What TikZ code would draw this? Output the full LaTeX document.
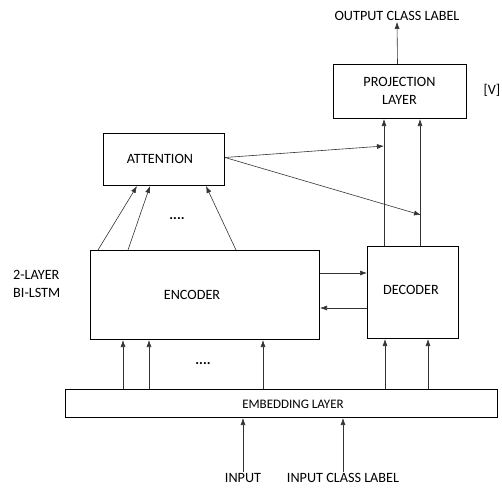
\documentclass[tikz,border=0pt]{standalone}
\usepackage{fontspec}
\setmainfont{Carlito}
\usetikzlibrary{arrows.meta,calc}
\begin{document}
\begin{tikzpicture}[x=1pt,y=-1pt,
  box/.style={draw, line width=1pt, anchor=north west, inner sep=0pt, align=center},
  lbl/.style={inner sep=1pt, font=\fontsize{14.2}{16}\selectfont},
  arr/.style={-{Latex[length=7pt,width=5pt]}, line width=0.6pt, draw=black!80},
  ln/.style={line width=0.6pt, draw=black!80}]
\useasboundingbox (0,0) rectangle (502,487);
\node[box, minimum width=133pt, minimum height=54pt] (proj) at (333,64) {};
\node[lbl, align=center] (projt) at (399.5,91) {PROJECTION\\[2pt]LAYER};
\node[box, minimum width=121pt, minimum height=52pt] (att) at (103,133) {};
\node[lbl] (attt) at (160,159) {ATTENTION};
\node[box, minimum width=229pt, minimum height=89pt] (enc) at (90,250) {};
\node[lbl] (enct) at (192,295) {ENCODER};
\node[box, minimum width=91pt, minimum height=92pt] (dec) at (367,246) {};
\node[lbl] (dect) at (411,290) {DECODER};
\node[box, minimum width=432pt, minimum height=28pt] (emb) at (65,389) {};
\node[lbl, font=\fontsize{13}{15}\selectfont] (embt) at (293,404) {EMBEDDING LAYER};
\node[lbl] (out) at (397,16) {OUTPUT CLASS LABEL};
\node[lbl, anchor=east] (v) at (501.5,90) {[V]};
\node[lbl, align=left, anchor=west] (bil) at (12,284) {2-LAYER\\[2pt]BI-LSTM};
\node[lbl] (inp) at (243,478) {INPUT};
\node[lbl] (icl) at (343,478) {INPUT CLASS LABEL};
\node[lbl] (d1) at (177,219) {\textbf{....}};
\node[lbl] (d2) at (203,364) {\textbf{....}};
% output
\draw[arr] ([xshift=-2.5pt]proj.north) -- (out.south -| 397,0);
% decoder to projection
\draw[arr] ([xshift=17pt]dec.north west) -- ([xshift=51pt]proj.south west);
\draw[arr] ([xshift=53pt]dec.north west) -- ([xshift=87pt]proj.south west);
% attention to decoder lines
\draw[arr] ([yshift=2pt]att.east) -- ([xshift=17pt,yshift=100pt]dec.north west);
\draw[arr] ([yshift=2pt]att.east) -- ([xshift=54pt,yshift=31pt]dec.north west);
% encoder to attention
\draw[arr] ([xshift=8pt]enc.north west) -- ([xshift=34pt]att.south west);
\draw[arr] ([xshift=38pt]enc.north west) -- ([xshift=47pt]att.south west);
\draw[arr] ([xshift=146pt]enc.north west) -- ([xshift=103pt]att.south west);
% encoder <-> decoder
\draw[arr] ([yshift=-23pt]enc.north east) -- ([yshift=-27pt]dec.north west);
\draw[arr] ([yshift=-62pt]dec.north west) -- ([yshift=-58pt]enc.north east);
% embedding to encoder / decoder
\draw[arr] ([xshift=58pt]emb.north west) -- ([xshift=33pt]enc.south west);
\draw[arr] ([xshift=84pt]emb.north west) -- ([xshift=59pt]enc.south west);
\draw[arr] ([xshift=198pt]emb.north west) -- ([xshift=173pt]enc.south west);
\draw[arr] ([xshift=320pt]emb.north west) -- ([xshift=18pt]dec.south west);
\draw[arr] ([xshift=363pt]emb.north west) -- ([xshift=61pt]dec.south west);
% inputs
\draw[arr] (inp.north) -- (emb.south -| inp.north);
\draw[arr] (icl.north) -- (emb.south -| icl.north);
\end{tikzpicture}
\end{document}
